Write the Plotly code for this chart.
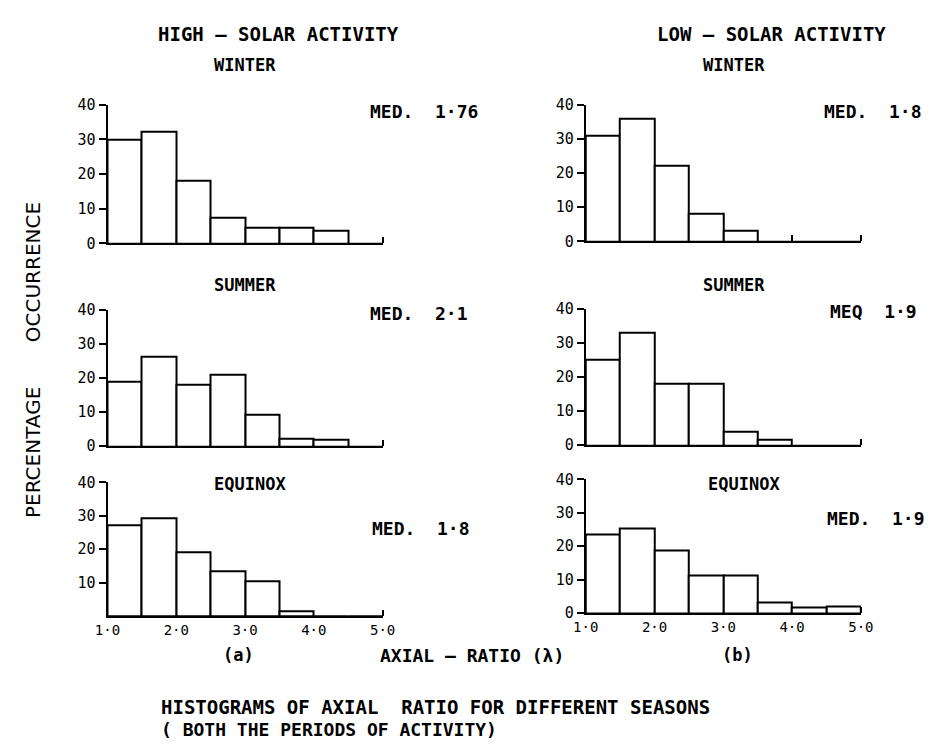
import plotly.graph_objects as go

# ---------------- data ----------------
axial_ratio_bins = [1.25, 1.75, 2.25, 2.75, 3.25, 3.75, 4.25, 4.75]
high_winter = [30, 32.3, 18, 7.3, 4.5, 4.5, 3.7, 0]
high_summer = [19, 26.2, 18.1, 21.1, 9.3, 2.2, 1.8, 0]
high_equinox = [27.2, 29.1, 19.2, 13.3, 10.3, 1.4, 0, 0]
low_winter = [31, 36, 22, 8, 3, 0, 0, 0]
low_summer = [25, 33, 18, 18, 4, 1.6, 0, 0]
low_equinox = [23.6, 25.3, 18.7, 11.4, 11.4, 3.1, 1.7, 1.9]
x_tick_vals = [1, 2, 3, 4, 5]
x_tick_text = ["1·0", "2·0", "3·0", "4·0", "5·0"]
y_tick_vals = [0, 10, 20, 30, 40]
medians = ["MED.  1·76", "MED.  2·1", "MED.  1·8", "MED.  1·8", "MEQ  1·9", "MED.  1·9"]

# ---------------- layout helpers ----------------
# page is 946x751; the browser body keeps its default 8px margin
PAGE_W, PAGE_H = 946, 751
OFF = 8
W, H = PAGE_W - 2 * OFF, PAGE_H - 2 * OFF
FONT = "DejaVu Sans Mono"
SANS = "DejaVu Sans"


def fx(p):
    return (p - OFF) / W


def fy(p):
    return 1 - (p - OFF) / H


# panel geometry in page pixels: (x_left, x_right, y_zero, y_forty)
panels = [
    (97, 380, 240, 98),    # high winter
    (97, 380, 448, 308),   # high summer
    (97, 380, 622, 485),   # high equinox
    (589, 872, 238, 98),   # low winter
    (589, 872, 447, 307),  # low summer
    (589, 872, 619, 482),  # low equinox
]
series = [high_winter, high_summer, high_equinox, low_winter, low_summer, low_equinox]

fig = go.Figure()
layout = dict(
    width=W, height=H,
    margin=dict(l=0, r=0, t=0, b=0),
    paper_bgcolor="white", plot_bgcolor="white",
    showlegend=False, bargap=0,
    font=dict(family=FONT, color="black"),
)

for i, (vals, (xl, xr, y0, y40)) in enumerate(zip(series, panels)):
    n = i + 1
    xa = "x" if n == 1 else f"x{n}"
    ya = "y" if n == 1 else f"y{n}"
    fig.add_trace(go.Bar(
        x=axial_ratio_bins, y=vals, width=0.5,
        marker=dict(color="white", line=dict(color="black", width=2)),
        xaxis=xa, yaxis=ya, hoverinfo="x+y",
    ))
    bottom = i in (2, 5)
    minor_vals = [4, 5] if i == 3 else [5]
    layout[f"xaxis{'' if n == 1 else n}"] = dict(
        domain=[fx(xl), fx(xr)], range=[1, 5], anchor=ya,
        showline=True, linecolor="black", linewidth=2,
        showgrid=False, zeroline=False, ticks="",
        tickvals=x_tick_vals, ticktext=x_tick_text,
        showticklabels=bottom, tickfont=dict(family=FONT, size=14, color="black"),
        minor=dict(tickvals=minor_vals, ticks="inside", ticklen=6, tickwidth=2,
                   tickcolor="black", showgrid=False),
        fixedrange=True,
    )
    yt = [10, 20, 30, 40] if i == 2 else y_tick_vals
    layout[f"yaxis{'' if n == 1 else n}"] = dict(
        domain=[fy(y0), fy(y40)], range=[0, 40], anchor=xa,
        showline=True, linecolor="black", linewidth=2,
        showgrid=False, zeroline=False,
        ticks="outside", ticklen=7, tickwidth=2, tickcolor="black",
        tickvals=yt, ticktext=[str(v) for v in yt],
        tickfont=dict(family=FONT, size=15, color="black"),
        fixedrange=True,
    )

fig.update_layout(**layout)


def ann(text, x, y, size=17, xanchor="center", angle=0, bold=True, family=FONT):
    fig.add_annotation(text=text, x=fx(x), y=fy(y), xref="paper", yref="paper",
                       showarrow=False, xanchor=xanchor, yanchor="middle",
                       textangle=angle,
                       font=dict(family=family, size=size, color="black",
                                 weight="bold" if bold else "normal"))


# column titles
ann("HIGH – SOLAR ACTIVITY", 273, 25, 19)
ann("LOW – SOLAR ACTIVITY", 780, 25, 19)
# season titles
ann("WINTER", 238, 57, 17)
ann("WINTER", 742, 57, 17)
ann("SUMMER", 238, 283, 17)
ann("SUMMER", 742, 283, 17)
ann("EQUINOX", 244, 487, 17)
ann("EQUINOX", 752, 487, 17)
# medians
med_pos = [(365, 105), (365, 312), (367, 532), (832, 105), (838, 310), (835, 522)]
for txt, (mx, my) in zip(medians, med_pos):
    ann(txt, mx, my, 18, xanchor="left")
# axis titles
ann("(a)", 232, 662, 17)
ann("(b)", 745, 662, 17)
ann("AXIAL – RATIO (λ)", 472, 663, 18)
ann("PERCENTAGE" + "&nbsp;" * 7 + "OCCURRENCE", 21, 360, 20, angle=-90,
    bold=False, family=SANS)
# caption
ann("HISTOGRAMS OF AXIAL  RATIO FOR DIFFERENT SEASONS", 150, 715, 19, xanchor="left")
ann("( BOTH THE PERIODS OF ACTIVITY)", 150, 738, 18, xanchor="left")

fig.write_html("out.html", config={"displayModeBar": False})
